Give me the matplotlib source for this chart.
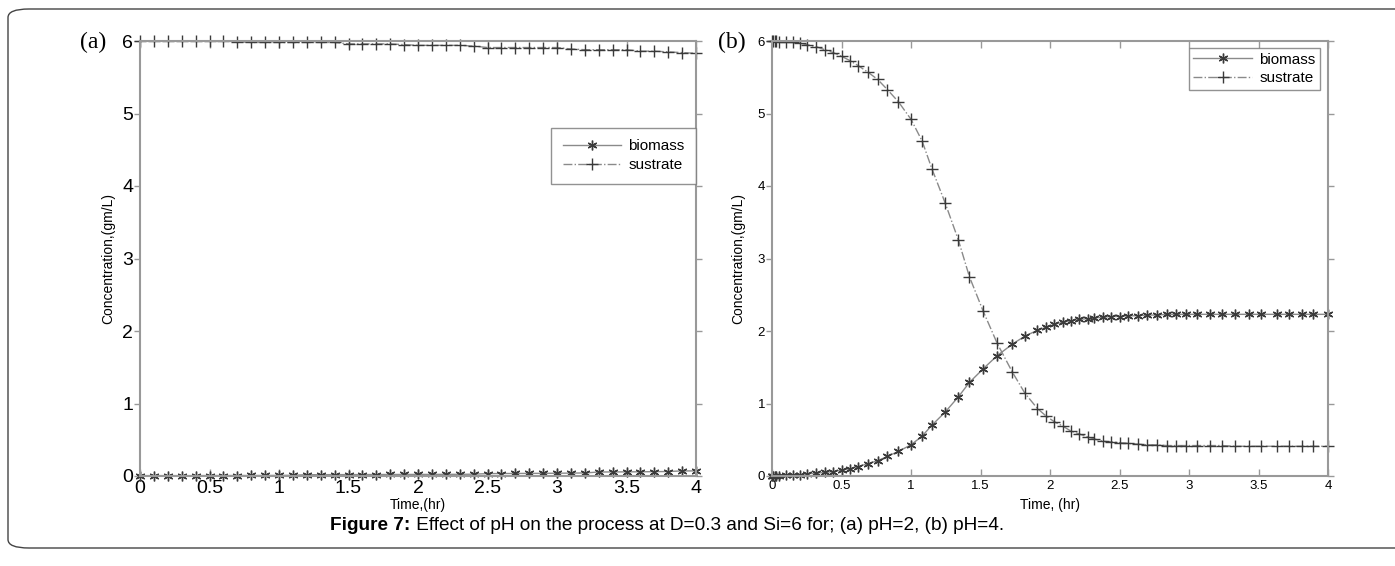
import matplotlib
matplotlib.use("Agg")
import matplotlib.pyplot as plt
from matplotlib.patches import FancyBboxPatch

# ---------------- data ----------------
t_a = [0.0, 0.1, 0.2, 0.3, 0.4, 0.5, 0.6, 0.7, 0.8, 0.9, 1.0, 1.1, 1.2, 1.3, 1.4,
       1.5, 1.6, 1.7, 1.8, 1.9, 2.0, 2.1, 2.2, 2.3, 2.4, 2.5, 2.6, 2.7, 2.8, 2.9,
       3.0, 3.1, 3.2, 3.3, 3.4, 3.5, 3.6, 3.7, 3.8, 3.9, 4.0]
biomass_a = [0.005, 0.005, 0.005, 0.005, 0.005, 0.006, 0.006, 0.006, 0.007, 0.007,
             0.008, 0.01, 0.018, 0.018, 0.019, 0.019, 0.02, 0.02, 0.021, 0.021,
             0.022, 0.022, 0.023, 0.023, 0.025, 0.033, 0.034, 0.035, 0.036, 0.037,
             0.038, 0.04, 0.042, 0.055, 0.056, 0.057, 0.058, 0.06, 0.062, 0.07, 0.07]
sustrate_a = [6.0, 6.0, 6.0, 6.0, 6.0, 6.0, 6.0, 5.99, 5.98, 5.98,
              5.98, 5.98, 5.98, 5.98, 5.98, 5.96, 5.96, 5.96, 5.96, 5.95,
              5.94, 5.94, 5.94, 5.94, 5.93, 5.91, 5.91, 5.91, 5.91, 5.91,
              5.91, 5.89, 5.88, 5.88, 5.88, 5.88, 5.86, 5.86, 5.85, 5.84, 5.83]

t_b = [0.0, 0.01, 0.02, 0.03, 0.05, 0.1, 0.15, 0.2, 0.25, 0.32, 0.38, 0.44, 0.5,
       0.56, 0.62, 0.69, 0.76, 0.83, 0.91, 1.0, 1.08, 1.15, 1.245, 1.34, 1.42,
       1.52, 1.62, 1.73, 1.82, 1.91, 1.97, 2.03, 2.09, 2.15, 2.21, 2.27, 2.32,
       2.38, 2.44, 2.5, 2.56, 2.63, 2.7, 2.77, 2.84, 2.91, 2.98, 3.06, 3.15,
       3.24, 3.33, 3.43, 3.52, 3.63, 3.72, 3.81, 3.89, 4.0]
biomass_b = [0.0, 0.0, 0.0, 0.0, 0.005, 0.01, 0.015, 0.02, 0.03, 0.04, 0.05, 0.06,
             0.08, 0.1, 0.13, 0.17, 0.21, 0.27, 0.34, 0.43, 0.55, 0.70, 0.88, 1.09,
             1.29, 1.48, 1.66, 1.82, 1.93, 2.01, 2.05, 2.09, 2.12, 2.14, 2.16, 2.17,
             2.18, 2.19, 2.2, 2.2, 2.21, 2.21, 2.22, 2.22, 2.23, 2.23, 2.23, 2.23,
             2.23, 2.23, 2.23, 2.23, 2.23, 2.23, 2.23, 2.23, 2.23, 2.23]
sustrate_b = [6.0, 6.0, 6.0, 6.0, 5.99, 5.99, 5.98, 5.97, 5.95, 5.92, 5.88, 5.84,
              5.79, 5.73, 5.66, 5.57, 5.47, 5.33, 5.16, 4.92, 4.62, 4.24, 3.77, 3.26,
              2.75, 2.27, 1.83, 1.43, 1.14, 0.93, 0.83, 0.75, 0.69, 0.62, 0.58, 0.54,
              0.51, 0.48, 0.47, 0.46, 0.45, 0.44, 0.43, 0.43, 0.42, 0.42, 0.42, 0.42,
              0.42, 0.42, 0.41, 0.41, 0.41, 0.41, 0.41, 0.41, 0.41, 0.41]

x_ticks = [0, 0.5, 1, 1.5, 2, 2.5, 3, 3.5, 4]
x_ticklabels = ["0", "0.5", "1", "1.5", "2", "2.5", "3", "3.5", "4"]
y_ticks = [0, 1, 2, 3, 4, 5, 6]
series_names = ["biomass", "sustrate"]
panel_tags = ["(a)", "(b)"]
xlabels = ["Time,(hr)", "Time, (hr)"]
ylabel = "Concentration,(gm/L)"
caption_bold = "Figure 7:"
caption_rest = " Effect of pH on the process at D=0.3 and Si=6 for; (a) pH=2, (b) pH=4."

# ---------------- style ----------------
plt.rcParams['font.family'] = ['Liberation Sans', 'DejaVu Sans']
W, H = 1395, 566
fig = plt.figure(figsize=(W / 100, H / 100), dpi=100)

# outer rounded frame
frame = FancyBboxPatch((8 / W, 1 - 548 / H), (1420 - 8) / W, (548 - 9) / H,
                       boxstyle="round,pad=0,rounding_size=0.015",
                       transform=fig.transFigure, fill=False,
                       edgecolor="#444444", linewidth=1.0, clip_on=False)
fig.patches.append(frame)

line_col = "#8a8a8a"
mark_col = "#3a3a3a"
asterisk = (6, 2, 0)

ax_bottom = 1 - 476 / H
ax_height = (476 - 41) / H
ax_width = (696 - 140) / W
axes_lefts = [140 / W, 772 / W]

tick_sizes = [14, 9.5]
xpads = [3, 3]
ylabelpads = [5, 9]
xlabel_y = [(505 - 476) / 435, (505 - 476) / 435]
tag_offsets = [60, 54]
legend_anchor = [(1.0, 1 - (128 - 41) / (476 - 41)), (1 - 8 / 556, 1 - 7 / 435)]
legend_cfg = [dict(fontsize=11, borderpad=0.75, labelspacing=0.3),
              dict(fontsize=11, borderpad=0.3, labelspacing=0.3)]
datasets = [(t_a, biomass_a, sustrate_a), (t_b, biomass_b, sustrate_b)]

for i, (tt, bio, sub) in enumerate(datasets):
    ax = fig.add_axes([axes_lefts[i], ax_bottom, ax_width, ax_height])
    ax.plot(tt, bio, linestyle='-', color=line_col, linewidth=1.0,
            marker=asterisk, markersize=7, markeredgecolor=mark_col,
            markerfacecolor=mark_col, markeredgewidth=1.0, clip_on=False,
            label=series_names[0])
    ax.plot(tt, sub, linestyle='-.', color=line_col, linewidth=1.0,
            marker='+', markersize=9, markeredgecolor=mark_col,
            markeredgewidth=1.0, clip_on=False, label=series_names[1])
    ax.set_xlim(0, 4)
    ax.set_ylim(0, 6)
    ax.set_xticks(x_ticks)
    ax.set_xticklabels(x_ticklabels)
    ax.set_yticks(y_ticks)
    for s in ax.spines.values():
        s.set_color("#999999")
        s.set_linewidth(1.5)
    ax.tick_params(axis='both', which='both', labelsize=tick_sizes[i],
                   color="#999999", width=1.0, length=5, direction='in',
                   top=True, right=True)
    ax.tick_params(axis='x', pad=xpads[i])
    ax.tick_params(axis='y', direction='out', length=4, pad=1, right=True)
    ax.set_xlabel(xlabels[i], fontsize=10, va='center')
    ax.xaxis.set_label_coords(0.5, -xlabel_y[i])
    ax.set_ylabel(ylabel, fontsize=10, labelpad=ylabelpads[i])
    leg = ax.legend(loc='upper right', bbox_to_anchor=legend_anchor[i],
                    handlelength=3.8, frameon=True, fancybox=False,
                    borderaxespad=0.0, handletextpad=0.5, **legend_cfg[i])
    leg.get_frame().set_edgecolor("#777777")
    leg.get_frame().set_linewidth(1.0)
    fig.text(axes_lefts[i] - tag_offsets[i] / W, 1 - 42 / H, panel_tags[i],
             family=['Liberation Serif', 'DejaVu Serif'], fontsize=17,
             ha='left', va='center')

# caption
fig.canvas.draw()
r = fig.canvas.get_renderer()
cap_size = 13.7
tb = fig.text(0, 1 - 526 / H, caption_bold, fontsize=cap_size, fontweight='bold',
              ha='left', va='center')
tr = fig.text(0, 1 - 526 / H, caption_rest, fontsize=cap_size, ha='left', va='center')
wb = tb.get_window_extent(r).width
wr = tr.get_window_extent(r).width
x0 = 667 - (wb + wr) / 2
tb.set_x(x0 / W)
tr.set_x((x0 + wb) / W)

fig.savefig("out.png", dpi=100)
